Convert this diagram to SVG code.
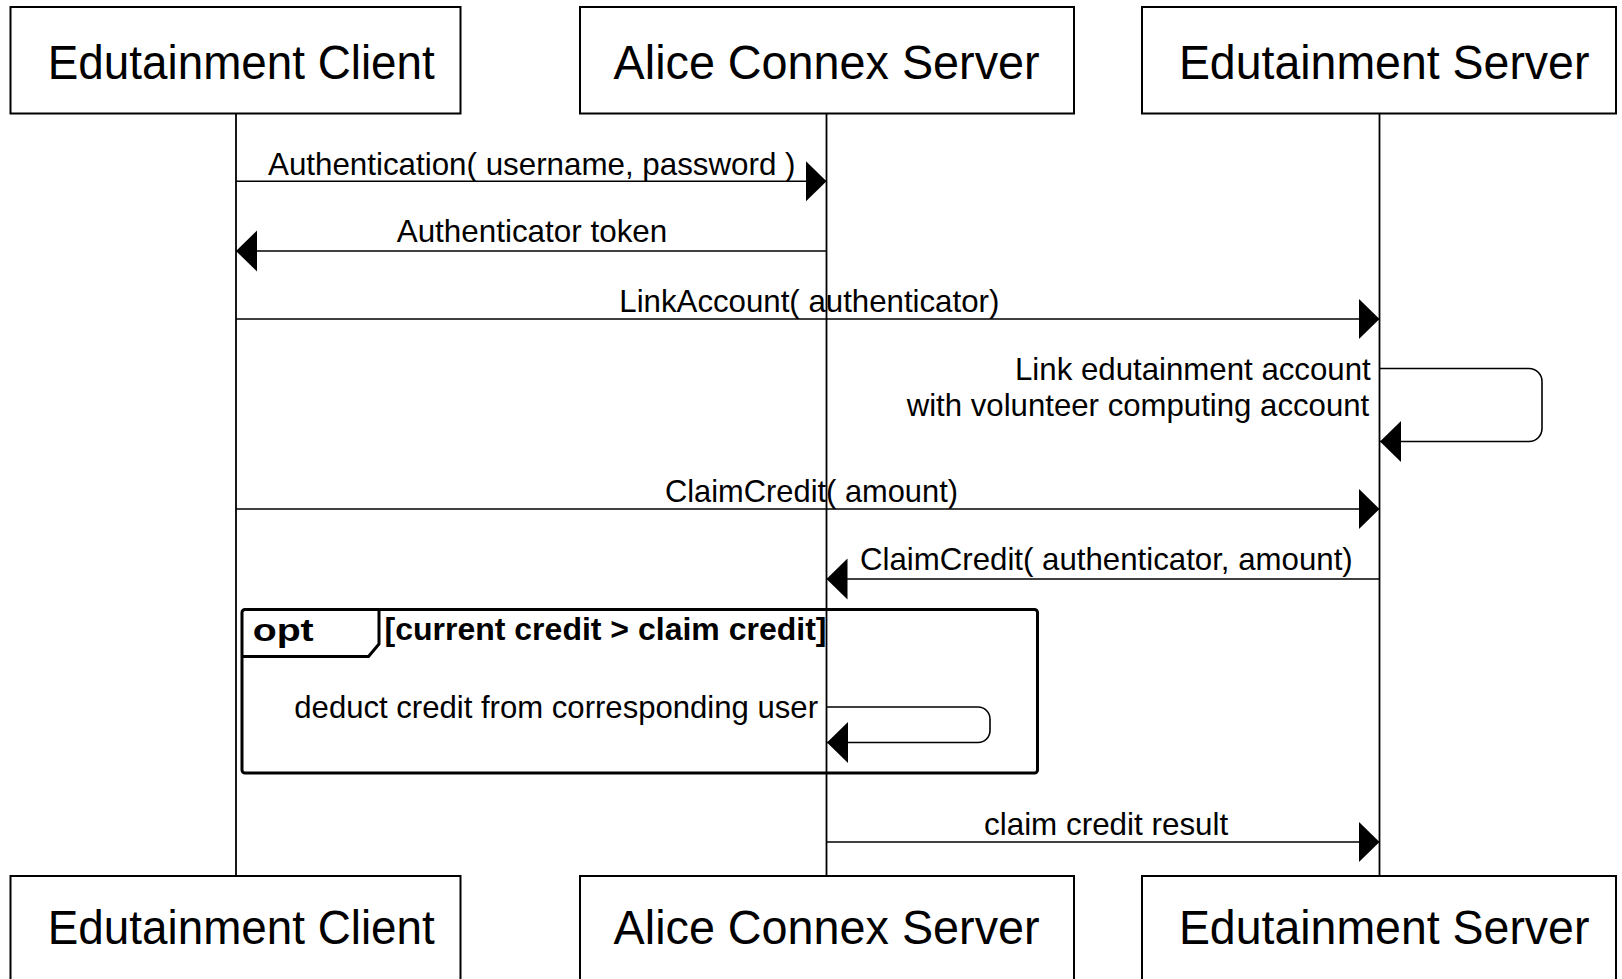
<svg xmlns="http://www.w3.org/2000/svg" width="1622" height="979" viewBox="0 0 1622 979">
  <defs>
    <style>
      .box { fill: #ffffff; stroke: #000000; stroke-width: 2; }
      .life { fill: none; stroke: #000000; stroke-width: 1.8; }
      .msg { fill: none; stroke: #000000; stroke-width: 1.6; }
      .frame { fill: none; stroke: #000000; stroke-width: 3; stroke-linejoin: round; }
      .actor { font-family: "Liberation Sans", Arial, sans-serif; font-size: 49px; fill: #000000; }
      .label { font-family: "Liberation Sans", Arial, sans-serif; font-size: 30.5px; fill: #000000; }
      .bold { font-family: "Liberation Sans", Arial, sans-serif; font-size: 32px; font-weight: bold; fill: #000000; }
    </style>
    <marker id="head" markerUnits="userSpaceOnUse" markerWidth="22" markerHeight="42" refX="21" refY="20.5" orient="auto" viewBox="0 0 22 42">
      <path d="M0,0 L21,20.5 L0,41 Z" fill="#000000"/>
    </marker>
  </defs>

  <rect x="0" y="0" width="1622" height="979" fill="#ffffff"/>

  <!-- lifelines -->
  <g id="lifelines">
    <line class="life" x1="236" y1="113.5" x2="236" y2="876"/>
    <line class="life" x1="826.5" y1="113.5" x2="826.5" y2="876"/>
    <line class="life" x1="1379.5" y1="113.5" x2="1379.5" y2="876"/>
  </g>

  <!-- optional fragment -->
  <g id="opt-fragment">
    <rect class="frame" x="242" y="609.5" width="795.5" height="163.5" rx="3"/>
    <path class="frame" d="M242,656.5 H368.5 L379,644 V609.5"/>
    <text class="bold" x="252.7" y="641" font-size="36" textLength="61" lengthAdjust="spacingAndGlyphs">opt</text>
    <text class="bold" x="384.5" y="640" textLength="442" lengthAdjust="spacingAndGlyphs">[current credit &gt; claim credit]</text>
  </g>

  <!-- messages -->
  <g id="connectors">
    <line class="msg" x1="236" y1="181.3" x2="826.5" y2="181.3" marker-end="url(#head)"/>
    <text class="label" x="268" y="175" textLength="527.5" lengthAdjust="spacingAndGlyphs">Authentication( username, password )</text>

    <line class="msg" x1="826.5" y1="251" x2="236" y2="251" marker-end="url(#head)"/>
    <text class="label" x="396.7" y="242" textLength="270.6" lengthAdjust="spacingAndGlyphs">Authenticator token</text>

    <line class="msg" x1="236" y1="319" x2="1379.5" y2="319" marker-end="url(#head)"/>
    <text class="label" x="619.3" y="312" textLength="380" lengthAdjust="spacingAndGlyphs">LinkAccount( authenticator)</text>

    <path class="msg" d="M1379.5,368.5 H1529 A13,13 0 0 1 1542,381.5 V428.5 A13,13 0 0 1 1529,441.5 H1380" marker-end="url(#head)"/>
    <text class="label" x="1015" y="380" textLength="355.7" lengthAdjust="spacingAndGlyphs">Link edutainment account</text>
    <text class="label" x="906.7" y="416" textLength="462.6" lengthAdjust="spacingAndGlyphs">with volunteer computing account</text>

    <line class="msg" x1="236" y1="509" x2="1379.5" y2="509" marker-end="url(#head)"/>
    <text class="label" x="665" y="502" textLength="293" lengthAdjust="spacingAndGlyphs">ClaimCredit( amount)</text>

    <line class="msg" x1="1379.5" y1="579" x2="826.5" y2="579" marker-end="url(#head)"/>
    <text class="label" x="860" y="569.5" textLength="492.7" lengthAdjust="spacingAndGlyphs">ClaimCredit( authenticator, amount)</text>

    <path class="msg" d="M826.5,707 H978 A12,12 0 0 1 990,719 V730.5 A12,12 0 0 1 978,742.5 H827" marker-end="url(#head)"/>
    <text class="label" x="294.3" y="718.3" textLength="523.7" lengthAdjust="spacingAndGlyphs">deduct credit from corresponding user</text>

    <line class="msg" x1="826.5" y1="842" x2="1379.5" y2="842" marker-end="url(#head)"/>
    <text class="label" x="984" y="835" textLength="244.3" lengthAdjust="spacingAndGlyphs">claim credit result</text>
  </g>

  <!-- participants, top -->
  <g id="client-top">
    <rect class="box" x="10.5" y="7" width="450" height="106.5"/>
    <text class="actor" x="47.8" y="79" textLength="387" lengthAdjust="spacingAndGlyphs">Edutainment Client</text>
  </g>
  <g id="alice-top">
    <rect class="box" x="580" y="7" width="494" height="106.5"/>
    <text class="actor" x="613.6" y="79" textLength="426" lengthAdjust="spacingAndGlyphs">Alice Connex Server</text>
  </g>
  <g id="server-top">
    <rect class="box" x="1142" y="7" width="474" height="106.5"/>
    <text class="actor" x="1178.9" y="79" textLength="410.5" lengthAdjust="spacingAndGlyphs">Edutainment Server</text>
  </g>

  <!-- participants, bottom -->
  <g id="client-bottom">
    <rect class="box" x="10.5" y="876" width="450" height="107"/>
    <text class="actor" x="47.8" y="944.3" textLength="387" lengthAdjust="spacingAndGlyphs">Edutainment Client</text>
  </g>
  <g id="alice-bottom">
    <rect class="box" x="580" y="876" width="494" height="107"/>
    <text class="actor" x="613.6" y="944.3" textLength="426" lengthAdjust="spacingAndGlyphs">Alice Connex Server</text>
  </g>
  <g id="server-bottom">
    <rect class="box" x="1142" y="876" width="474" height="107"/>
    <text class="actor" x="1178.9" y="944.3" textLength="410.5" lengthAdjust="spacingAndGlyphs">Edutainment Server</text>
  </g>
</svg>
